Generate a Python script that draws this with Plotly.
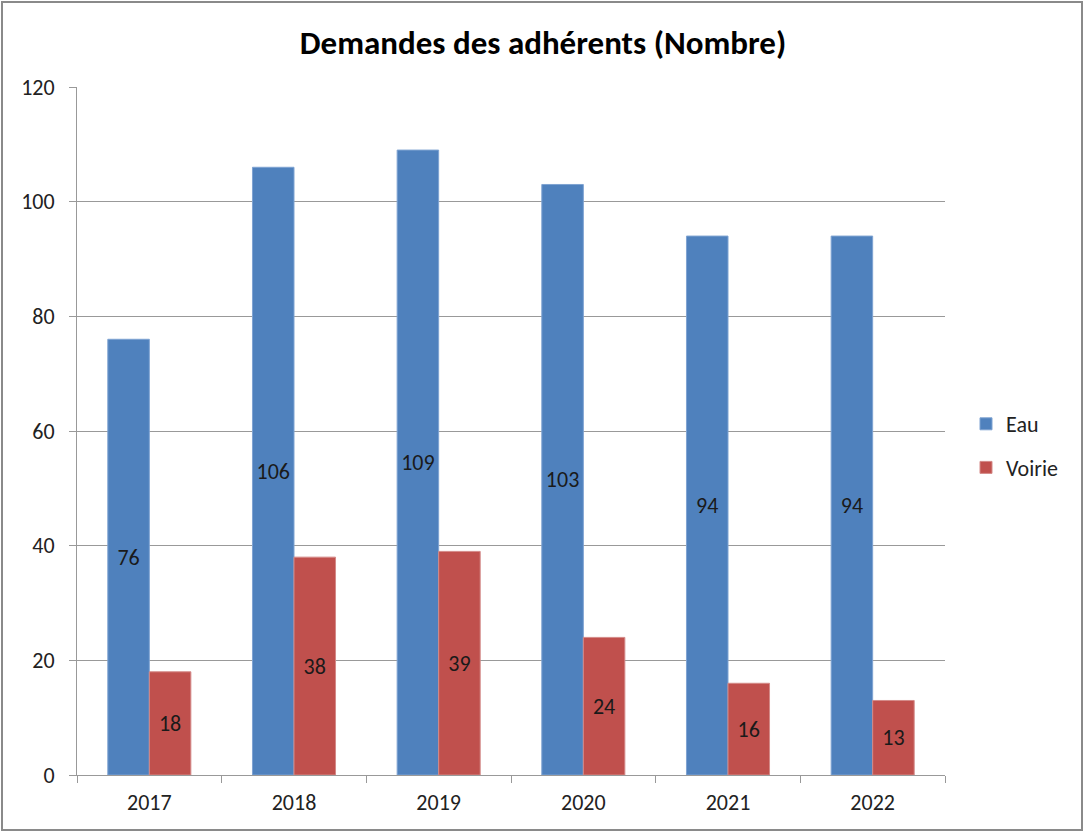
import plotly.graph_objects as go

years = ["2017", "2018", "2019", "2020", "2021", "2022"]
eau = [76, 106, 109, 103, 94, 94]
voirie = [18, 38, 39, 24, 16, 13]

W, H = 1084, 832
ml, mr, mt, mb = 77, 139, 87, 57
pw, ph = W - ml - mr, H - mt - mb

font_family = "Carlito, Calibri, 'Open Sans', sans-serif"
lbl = 22

fig = go.Figure()
fig.add_trace(go.Bar(
    x=years, y=eau, name="Eau", marker=dict(color="#4F81BD", line=dict(color="#7FA3D2", width=1)),
    text=[str(v) for v in eau], textposition="inside", insidetextanchor="middle",
    textangle=0, constraintext="none",
    textfont=dict(size=lbl, color="#1a1a1a", family=font_family),
    legendgroup="a",
))
fig.add_trace(go.Bar(
    x=years, y=voirie, name="Voirie", marker=dict(color="#C0504D", line=dict(color="#D48A88", width=1)),
    text=[str(v) for v in voirie], textposition="inside", insidetextanchor="middle",
    textangle=0, constraintext="none",
    textfont=dict(size=lbl, color="#1a1a1a", family=font_family),
    legendgroup="b",
))

fig.update_layout(
    width=W, height=H,
    margin=dict(l=ml, r=mr, t=mt, b=mb),
    paper_bgcolor="white", plot_bgcolor="white",
    barmode="group", bargap=0.426, bargroupgap=0,
    font=dict(family=font_family, size=lbl, color="#222"),
    title=dict(text="<b>Demandes des adhérents (Nombre)</b>", x=543 / W, xanchor="center",
               y=1 - 42 / H, yanchor="middle", font=dict(size=33, color="#000")),
    legend=dict(x=(966 - ml) / pw, xanchor="left", y=(775 - 446) / ph, yanchor="middle",
                traceorder="grouped", tracegroupgap=12, font=dict(size=lbl, color="#222"),
                itemwidth=30),
    showlegend=True,
)
fig.update_xaxes(
    type="category", showline=True, linecolor="#999", linewidth=1,
    ticks="outside", tickson="boundaries", ticklen=7, tickcolor="#999",
    showgrid=False, tickfont=dict(size=lbl, color="#222"), ticklabelstandoff=8,
)
fig.update_yaxes(
    range=[0, 120], dtick=20, showline=True, linecolor="#999", linewidth=1,
    ticks="outside", ticklen=7, tickcolor="#999",
    showgrid=True, gridcolor="#999", gridwidth=1, zeroline=False,
    tickfont=dict(size=lbl, color="#222"), ticklabelstandoff=10,
)

fig.add_shape(type="rect", xref="paper", yref="paper",
              x0=(2 - ml) / pw, x1=1 + (mr - 2) / pw,
              y0=-(mb - 2) / ph, y1=1 + (mt - 2) / ph,
              line=dict(color="#8a8a8a", width=2), fillcolor="rgba(0,0,0,0)", layer="above")

fig.write_html("out.html", config={"displayModeBar": False},
               post_script="document.body.style.margin='0px';")
